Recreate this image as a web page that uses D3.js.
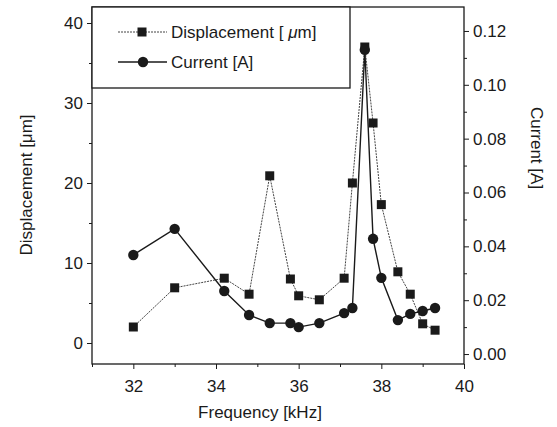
<!DOCTYPE html>
<html>
<head>
<meta charset="utf-8">
<script src="https://cdn.jsdelivr.net/npm/d3@7"></script>
<style>
  body { margin: 0; background: #fff; }
  svg { font-family: "Liberation Sans", Arial, sans-serif; }
</style>
</head>
<body>
<svg id="chart" width="557" height="427"></svg>
<script>
// Data
const frequency = [32, 33, 34.2, 34.8, 35.3, 35.8, 36.0, 36.5, 37.1, 37.3, 37.6, 37.8, 38.0, 38.4, 38.7, 39.0, 39.3];
const displacement = [2.0, 6.9, 8.1, 6.1, 20.9, 8.0, 5.9, 5.4, 8.1, 20.0, 37.0, 27.5, 17.3, 8.9, 6.1, 2.4, 1.6];
const current = [0.0368, 0.0465, 0.0234, 0.0145, 0.0115, 0.0115, 0.0100, 0.0115, 0.0152, 0.0171, 0.113, 0.0428, 0.0283, 0.0126, 0.0149, 0.0160, 0.0171];

const xTicks = [32, 34, 36, 38, 40];
const xMinor = [31, 33, 35, 37, 39];
const leftTicks = [0, 10, 20, 30, 40];
const leftMinor = [5, 15, 25, 35];
const rightTicks = [0, 0.02, 0.04, 0.06, 0.08, 0.10, 0.12];
const rightMinor = [0.01, 0.03, 0.05, 0.07, 0.09, 0.11];

const svg = d3.select('#chart');
const box = { left: 92, right: 464, top: 7, bottom: 364 };
const ink = '#1a1a1a';

const x = d3.scaleLinear().domain([31, 40]).range([box.left, box.right]);
const yL = d3.scaleLinear().domain([-2.625, 42]).range([box.bottom, box.top]);
const yR = d3.scaleLinear().domain([-0.0037, 0.1289]).range([box.bottom, box.top]);

function styleAxis(g) {
  g.select('.domain').remove();
  g.selectAll('line').attr('stroke', ink).attr('stroke-width', 1);
  g.selectAll('text').attr('fill', ink).style('font-size', '17px');
}

// Bottom axis
svg.append('g').attr('transform', `translate(0,${box.bottom})`)
  .call(d3.axisBottom(x).tickValues(xTicks).tickSize(5).tickPadding(11).tickFormat(d3.format('d')))
  .call(styleAxis);
svg.append('g').attr('transform', `translate(0,${box.bottom})`)
  .call(d3.axisBottom(x).tickValues(xMinor).tickSize(3).tickFormat(''))
  .call(styleAxis);

// Left axis
svg.append('g').attr('transform', `translate(${box.left},0)`)
  .call(d3.axisLeft(yL).tickValues(leftTicks).tickSize(5).tickPadding(4).tickFormat(d3.format('d')))
  .call(styleAxis);
svg.append('g').attr('transform', `translate(${box.left},0)`)
  .call(d3.axisLeft(yL).tickValues(leftMinor).tickSize(3).tickFormat(''))
  .call(styleAxis);

// Right axis
svg.append('g').attr('transform', `translate(${box.right},0)`)
  .call(d3.axisRight(yR).tickValues(rightTicks).tickSize(5).tickPadding(4).tickFormat(d3.format('.2f')))
  .call(styleAxis);
svg.append('g').attr('transform', `translate(${box.right},0)`)
  .call(d3.axisRight(yR).tickValues(rightMinor).tickSize(3).tickFormat(''))
  .call(styleAxis);

// Frame
svg.append('rect')
  .attr('x', box.left).attr('y', box.top)
  .attr('width', box.right - box.left).attr('height', box.bottom - box.top)
  .attr('fill', 'none').attr('stroke', ink).attr('stroke-width', 1.3);

// Axis titles
svg.append('text')
  .attr('transform', 'translate(32,185) rotate(-90)')
  .attr('text-anchor', 'middle').attr('fill', ink).style('font-size', '17px')
  .text('Displacement [μm]');
svg.append('text')
  .attr('x', 260).attr('y', 418)
  .attr('text-anchor', 'middle').attr('fill', ink).style('font-size', '17px')
  .text('Frequency [kHz]');
svg.append('text')
  .attr('transform', 'translate(531,148) rotate(90)')
  .attr('text-anchor', 'middle').attr('fill', ink).style('font-size', '17px')
  .text('Current [A]');

// Series
const rows = frequency.map((f, i) => ({ f, d: displacement[i], c: current[i] }));

const dispLine = d3.line().x(r => x(r.f)).y(r => yL(r.d));
const currLine = d3.line().x(r => x(r.f)).y(r => yR(r.c));

svg.append('path').datum(rows)
  .attr('fill', 'none').attr('stroke', '#444').attr('stroke-width', 1)
  .attr('stroke-dasharray', '2,1').attr('d', dispLine);

svg.append('path').datum(rows)
  .attr('fill', 'none').attr('stroke', ink).attr('stroke-width', 1.4)
  .attr('d', currLine);

const sq = 9;
svg.append('g').selectAll('rect').data(rows).join('rect')
  .attr('x', r => x(r.f) - sq / 2).attr('y', r => yL(r.d) - sq / 2)
  .attr('width', sq).attr('height', sq).attr('fill', ink);

svg.append('g').selectAll('circle').data(rows).join('circle')
  .attr('cx', r => x(r.f)).attr('cy', r => yR(r.c)).attr('r', 5.2).attr('fill', ink);

// Legend
const legend = svg.append('g');
legend.append('rect')
  .attr('x', box.left).attr('y', box.top).attr('width', 258).attr('height', 81)
  .attr('fill', '#fff').attr('stroke', ink).attr('stroke-width', 1.3);

legend.append('line').attr('x1', 118).attr('x2', 167).attr('y1', 32).attr('y2', 32)
  .attr('stroke', '#444').attr('stroke-width', 1).attr('stroke-dasharray', '2,1');
legend.append('rect').attr('x', 142 - sq / 2).attr('y', 32 - sq / 2)
  .attr('width', sq).attr('height', sq).attr('fill', ink);
const t1 = legend.append('text').attr('x', 171).attr('y', 38)
  .attr('fill', ink).style('font-size', '17px');
t1.append('tspan').text('Displacement [ ');
t1.append('tspan').style('font-style', 'italic').text('μ');
t1.append('tspan').text('m]');

legend.append('line').attr('x1', 118).attr('x2', 167).attr('y1', 62).attr('y2', 62)
  .attr('stroke', ink).attr('stroke-width', 1.4);
legend.append('circle').attr('cx', 143).attr('cy', 62).attr('r', 5.2).attr('fill', ink);
legend.append('text').attr('x', 171).attr('y', 68)
  .attr('fill', ink).style('font-size', '17px').text('Current [A]');
</script>
</body>
</html>
